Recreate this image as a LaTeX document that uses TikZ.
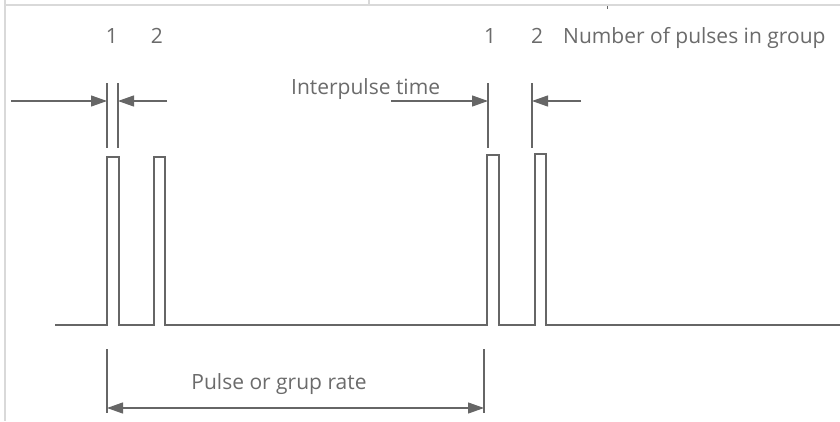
\documentclass[tikz,border=0pt]{standalone}
\usepackage{fontspec}
\setmainfont{Open Sans}
\usetikzlibrary{arrows.meta}
\definecolor{ink}{HTML}{666666}
\definecolor{txt}{HTML}{6B6B6B}
\definecolor{rulegray}{HTML}{D9D9D9}
\begin{document}
\begin{tikzpicture}[x=1pt,y=-1pt,
  lbl/.style={text=txt,font=\fontsize{21}{25}\selectfont,inner sep=0pt,anchor=base},
  wave/.style={draw=ink,line width=2.6pt,line join=miter},
  dimline/.style={draw=ink,line width=1.2pt},
  dimarrow/.style={dimline,-{Triangle[length=16pt,width=11pt]}},
  dimboth/.style={dimline,{Triangle[length=16pt,width=11pt]}-{Triangle[length=16pt,width=11pt]}}]
\useasboundingbox (0,0) rectangle (840,421);
\fill[white] (0,0) rectangle (840,421);
% frame of the surrounding table
\draw[rulegray,line width=2pt] (5,5) -- (840,5);
\draw[rulegray,line width=2pt] (5,0) -- (5,421);
\draw[rulegray,line width=1.5pt] (369,0) -- (369,5);
\draw[ink,line width=1pt] (607,6) -- (607,9);
% pulse train
\draw[wave] (55,325) -- (107,325) -- (107,157) -- (119,157) -- (119,325)
  -- (154,325) -- (154,157) -- (165,157) -- (165,325)
  -- (487,325) -- (487,155) -- (499,155) -- (499,325)
  -- (535,325) -- (535,154) -- (546,154) -- (546,325) -- (840,325);
% extension lines
\coordinate (a1t) at (107,83); \coordinate (a1b) at (107,148);
\coordinate (a2t) at (118,83); \coordinate (a2b) at (118,148);
\coordinate (b1t) at (488,83); \coordinate (b1b) at (488,148);
\coordinate (b2t) at (532,83); \coordinate (b2b) at (532,148);
\coordinate (c1t) at (107,349); \coordinate (c1b) at (107,413);
\coordinate (c2t) at (484,349); \coordinate (c2b) at (484,413);
\foreach \p in {a1,a2,b1,b2,c1,c2} \draw[dimline] (\p t) -- (\p b);
% arrows
\coordinate (a1s) at (11,101); \coordinate (a1e) at (107,101);
\coordinate (a2s) at (167,101); \coordinate (a2e) at (118,101);
\coordinate (b1s) at (391,101); \coordinate (b1e) at (488,101);
\coordinate (b2s) at (581,101); \coordinate (b2e) at (532,101);
\coordinate (c1) at (107,408); \coordinate (c2) at (484,408);
\draw[dimarrow] (a1s) -- (a1e);
\draw[dimarrow] (a2s) -- (a2e);
\draw[dimarrow] (b1s) -- (b1e);
\draw[dimarrow] (b2s) -- (b2e);
\draw[dimboth] (c1) -- (c2);
% labels
\node[lbl] (n1) at (112,43) {1};
\node[lbl] (n2) at (157,43) {2};
\node[lbl] (n3) at (490,43) {1};
\node[lbl] (n4) at (537,43) {2};
\node[lbl,anchor=base west] (np) at (563,43) {Number of pulses in group};
\node[lbl,anchor=base west] (it) at (291,94) {Interpulse time};
\node[lbl] (pr) at (279,389) {Pulse or grup rate};
\end{tikzpicture}
\end{document}
